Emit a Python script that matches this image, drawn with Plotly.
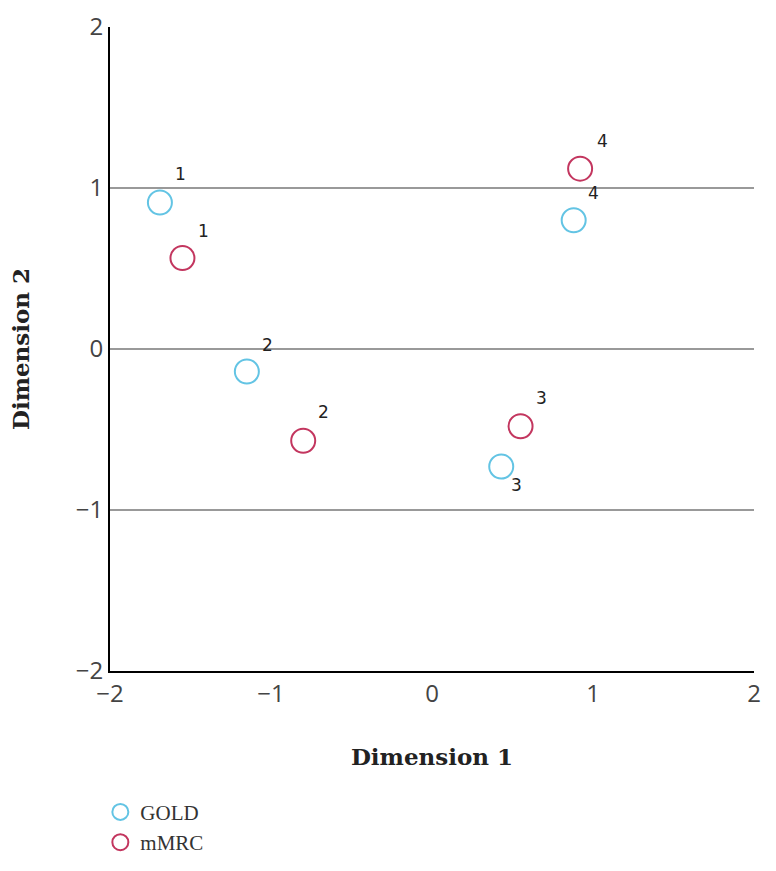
import plotly.graph_objects as go

# Data
gold_x = [-1.69, -1.15, 0.43, 0.88]
gold_y = [0.91, -0.14, -0.73, 0.80]
mmrc_x = [-1.55, -0.80, 0.55, 0.92]
mmrc_y = [0.565, -0.57, -0.48, 1.12]
point_labels = ["1", "2", "3", "4"]
tick_vals = [-2, -1, 0, 1, 2]
series_names = ["GOLD", "mMRC"]

gold_color = "#63C4E4"
mmrc_color = "#C3365F"

fig = go.Figure()
fig.add_trace(go.Scatter(
    x=gold_x, y=gold_y, mode="markers", name=series_names[0],
    marker=dict(symbol="circle-open", size=24, color=gold_color, line=dict(width=2, color=gold_color)),
))
fig.add_trace(go.Scatter(
    x=mmrc_x, y=mmrc_y, mode="markers", name=series_names[1],
    marker=dict(symbol="circle-open", size=24, color=mmrc_color, line=dict(width=2, color=mmrc_color)),
))

# label offsets (pixels) per point
gold_offsets = [(21, 28), (21, 27), (15, -18), (20, 27)]
mmrc_offsets = [(21, 27), (20, 29), (21, 28), (22, 28)]
annos = []
for xs, ys, offs in ((gold_x, gold_y, gold_offsets), (mmrc_x, mmrc_y, mmrc_offsets)):
    for xv, yv, lab, (dx, dy) in zip(xs, ys, point_labels, offs):
        annos.append(dict(x=xv, y=yv, text=lab, showarrow=False, xshift=dx, yshift=dy,
                          font=dict(family="DejaVu Sans", size=17, color="#222")))

fig.update_layout(
    width=776, height=871,
    margin=dict(l=110, r=22, t=27, b=200),
    plot_bgcolor="white", paper_bgcolor="white",
    annotations=annos,
    showlegend=True,
    legend=dict(x=-0.015, y=0.091, xref="paper", yref="container", xanchor="left", yanchor="top",
                font=dict(family="Liberation Serif", size=21, color="#333"),
                itemsizing="trace", tracegroupgap=0, itemwidth=30,
                bgcolor="rgba(0,0,0,0)"),
    xaxis=dict(range=[-2, 2], tickvals=tick_vals, showgrid=False, zeroline=False,
               showline=True, linecolor="black", linewidth=2, automargin=False,
               tickfont=dict(family="Open Sans", size=24, color="#444"),
               title=dict(text="<b>Dimension 1</b>", standoff=41,
                          font=dict(family="DejaVu Serif", size=23, color="#222"))),
    yaxis=dict(range=[-2, 2], tickvals=tick_vals, showgrid=True, gridcolor="#999", gridwidth=1.5,
               zeroline=False, showline=True, linecolor="black", linewidth=2, automargin=False,
               tickfont=dict(family="Open Sans", size=24, color="#444"),
               title=dict(text="<b>Dimension 2</b>", standoff=40,
                          font=dict(family="DejaVu Serif", size=23, color="#222"))),
)

fig.write_html("out.html")
